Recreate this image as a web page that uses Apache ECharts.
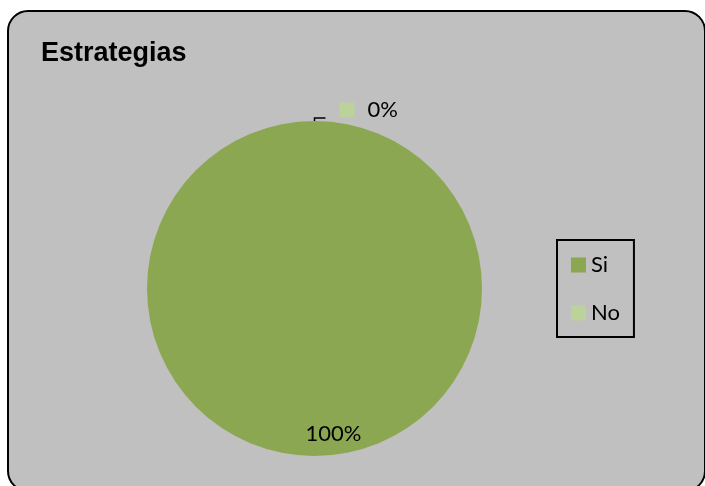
<!DOCTYPE html>
<html>
<head>
<meta charset="utf-8">
<script src="https://cdn.jsdelivr.net/npm/echarts@6/dist/echarts.min.js"></script>
<style>
html,body{margin:0;padding:0;background:#fff;}
#c{width:705px;height:486px;}
</style>
</head>
<body>
<div id="c"></div>
<script>
var titleText = 'Estrategias';
var categories = ['Si', 'No'];
var values = [100, 0];
var colors = ['#8CA752', '#BBD39B'];

var chart = echarts.init(document.getElementById('c'), null, {renderer: 'canvas'});

var pieData = categories.map(function (c, i) {
  return {name: c, value: values[i], itemStyle: {color: colors[i]}};
});

var font = 'Lato';

chart.setOption({
  animation: false,
  backgroundColor: 'transparent',
  graphic: [{
    type: 'rect',
    z: -10,
    shape: {x: 8, y: 11, width: 697, height: 480, r: 20},
    style: {fill: '#C0C0C0', stroke: '#000', lineWidth: 2}
  }],
  title: {
    text: titleText,
    left: 41,
    top: 40,
    padding: 0,
    textStyle: {fontFamily: 'Liberation Sans', fontWeight: 'bold', fontSize: 27, color: '#000'}
  },
  legend: {
    orient: 'vertical',
    left: 557,
    top: 240,
    data: categories,
    icon: 'rect',
    itemWidth: 15,
    itemHeight: 15,
    itemGap: 26,
    padding: [14, 14, 13, 14],
    borderColor: '#000',
    borderWidth: 2,
    textStyle: {fontFamily: font, fontSize: 22, lineHeight: 22, color: '#000'}
  },
  series: [{
    type: 'pie',
    center: [314.5, 288.5],
    radius: 167.5,
    startAngle: 90,
    clockwise: true,
    avoidLabelOverlap: false,
    stillShowZeroSum: true,
    data: pieData.map(function (d) {
      if (d.value === 0) {
        return Object.assign({}, d, {
          label: {position: 'outside', distanceToLabelLine: 14, padding: [0, 0, 16, 0]}
        });
      }
      return Object.assign({}, d, {
        label: {position: 'inside'},
        labelLine: {show: false}
      });
    }),
    label: {
      show: true,
      fontFamily: font,
      fontSize: 22,
      color: '#000',
      formatter: function (p) {
        return p.value === 0 ? '{sq|}{t|' + p.percent + '%}' : p.percent + '%';
      },
      rich: {
        sq: {width: 15, height: 15, backgroundColor: colors[1]},
        t: {fontFamily: font, fontSize: 22, color: '#000', padding: [0, 0, 0, 13]}
      }
    },
    labelLine: {
      show: true,
      length: 3,
      length2: 11,
      lineStyle: {color: '#000', width: 1.5}
    },
    labelLayout: function (p) {
      if (p.dataIndex === 0) {
        return {dx: 19, dy: 59};
      }
      return {};
    },
    emphasis: {disabled: true}
  }]
});
</script>
</body>
</html>
